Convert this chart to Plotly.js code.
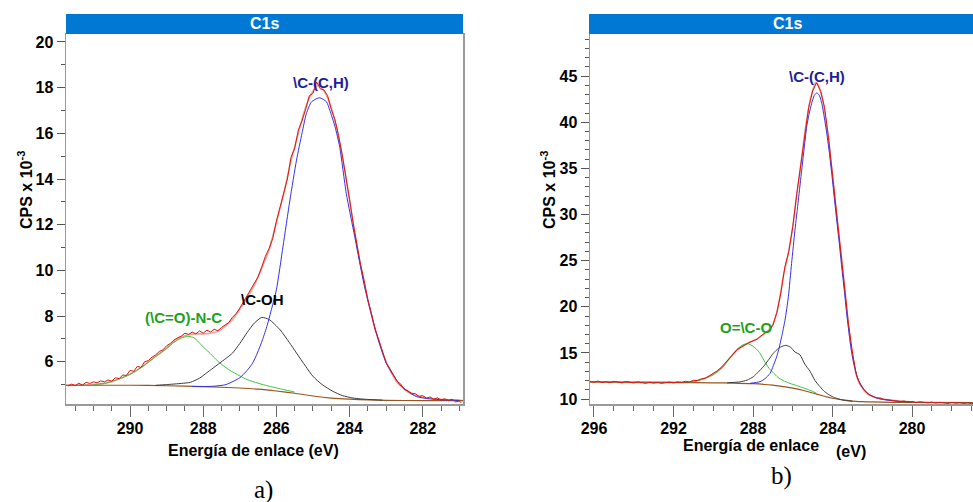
<!DOCTYPE html>
<html><head><meta charset="utf-8">
<script src="https://cdn.plot.ly/plotly-3.0.1.min.js"></script>
<style>html,body{margin:0;padding:0;overflow:hidden;background:#fff;width:973px;height:502px}</style>
</head><body><div id="chart" style="width:985px;height:502px"></div>
<script>
// ---------- panel a) ----------
const aRawX = [291.7,291.6,291.5,291.4,291.3,291.2,291.1,291.0,290.9,290.8,290.7,290.6,290.5,290.4,290.3,290.2,290.1,290.0,
289.9,289.8,289.7,289.6,289.5,289.4,289.3,289.2,289.1,289.0,288.9,288.8,288.7,288.6,288.5,288.4,288.3,288.2,288.1,288.0,
287.9,287.8,287.7,287.6,287.5,287.4,287.3,287.2,287.1,287.0,286.9,286.8,286.7,286.6,286.5,286.4,286.3,286.2,286.1,286.0,
285.9,285.8,285.7,285.6,285.5,285.4,285.3,285.2,285.1,285.0,284.9,284.8,284.7,284.6,284.5,284.4,284.3,284.2,284.1,284.0,
283.9,283.8,283.7,283.6,283.5,283.4,283.3,283.2,283.1,283.0,282.9,282.8,282.7,282.6,282.5,282.4,282.3,282.2,282.1,282.0,
281.9,281.8,281.7,281.6,281.5,281.4,281.3,281.2,281.1,281.0,280.95];
const aRawY = [4.93,5.02,4.95,5.06,4.98,5.10,5.05,5.12,5.08,5.16,5.12,5.20,5.15,5.30,5.26,5.42,5.40,5.62,
5.58,5.80,5.75,6.00,6.05,6.20,6.30,6.45,6.52,6.70,6.80,6.95,7.05,7.12,7.25,7.20,7.30,7.22,7.35,7.25,
7.38,7.30,7.42,7.36,7.50,7.62,7.72,7.95,8.10,8.35,8.62,8.85,9.15,9.40,9.72,10.15,10.62,10.95,11.40,12.15,
12.80,13.40,14.00,14.95,15.35,16.15,16.55,17.05,17.65,17.75,18.25,17.95,17.90,17.65,17.05,16.60,15.90,15.05,14.15,13.10,
12.05,11.15,10.25,9.55,8.70,8.10,7.40,6.95,6.45,5.95,5.70,5.45,5.15,5.02,4.78,4.72,4.62,4.60,4.48,4.52,
4.40,4.46,4.35,4.42,4.32,4.38,4.30,4.36,4.24,4.28,4.20];
const aEnvX = [291.75,291.0,290.65,290.3,290.0,289.65,289.3,289.0,288.8,288.6,288.4,288.2,288.0,287.8,287.6,287.4,287.2,287.0,
286.8,286.6,286.4,286.2,286.0,285.8,285.6,285.4,285.2,285.0,284.85,284.7,284.54,284.36,284.18,284.0,283.81,283.54,283.27,
283.0,282.72,282.36,281.9,281.36,280.9];
const aEnvY = [4.97,5.0,5.07,5.25,5.45,5.80,6.23,6.60,6.88,7.08,7.18,7.22,7.22,7.25,7.33,7.55,7.85,8.3,
8.8,9.35,10.1,10.9,12.1,13.35,14.8,16.0,17.15,17.85,18.1,17.85,17.31,16.28,14.83,13.08,11.19,9.0,7.26,
6.01,5.14,4.63,4.42,4.34,4.30];
const aBgX = [291.75,290.0,289.0,288.0,287.0,286.5,286.0,285.5,285.0,284.5,284.0,283.5,283.0,282.0,280.9];
const aBgY = [4.97,4.97,4.95,4.91,4.85,4.80,4.72,4.62,4.50,4.41,4.36,4.33,4.31,4.30,4.30];
const aCONX = [291.0,290.65,290.3,290.0,289.65,289.3,289.0,288.8,288.6,288.43,288.25,288.0,287.8,287.6,287.3,287.0,286.8,286.5,286.2,285.8,285.5];
const aCONY = [5.0,5.07,5.25,5.45,5.80,6.23,6.58,6.85,7.03,7.11,7.05,6.65,6.35,6.02,5.65,5.38,5.22,5.06,4.93,4.78,4.67];
const aCOHX = [289.3,289.0,288.6,288.35,288.1,287.9,287.55,287.2,287.0,286.8,286.6,286.4,286.2,285.9,285.65,285.45,285.2,285.0,284.75,284.45,284.2,283.9,283.5,283.1];
const aCOHY = [4.97,5.0,5.05,5.10,5.28,5.52,5.94,6.38,6.80,7.28,7.70,7.94,7.85,7.40,6.85,6.38,5.80,5.36,5.0,4.70,4.52,4.41,4.35,4.32];
const aCCHX = [288.3,287.7,287.38,287.0,286.8,286.65,286.52,286.38,286.25,286.15,286.0,285.82,285.63,285.45,285.3,285.18,285.04,284.82,
284.63,284.54,284.4,284.27,284.09,283.86,283.59,283.27,283.0,282.8,282.63,282.4,282.18,281.9,281.54,281.0];
const aCCHY = [4.91,4.93,5.0,5.3,5.62,5.94,6.38,6.96,7.6,8.2,9.15,11.04,13.08,14.83,16.0,16.87,17.38,17.56,
17.38,17.01,16.3,15.41,13.37,11.48,9.29,7.26,5.94,5.4,5.0,4.7,4.48,4.39,4.34,4.31];

// ---------- panel b) ----------
const bRawX = [296.2,296.0,295.8,295.6,295.4,295.2,295.0,294.8,294.6,294.4,294.2,294.0,293.8,293.6,293.4,293.2,293.0,292.8,292.6,292.4,
292.2,292.0,291.8,291.6,291.4,291.2,291.0,290.8,290.6,290.4,290.2,290.0,289.8,289.6,289.4,289.2,289.0,288.8,288.6,288.4,
288.2,288.0,287.8,287.6,287.4,287.2,287.0,286.8,286.6,286.4,286.2,286.0,285.8,285.6,285.4,285.2,285.0,284.8,284.6,284.4,
284.2,284.0,283.8,283.6,283.4,283.2,283.0,282.8,282.6,282.4,282.2,282.0,281.8,281.6,281.4,281.2,281.0,280.8,280.6,280.4,
280.2,280.0,279.8,279.6,279.4,279.2,279.0,278.8,278.6,278.4,278.2,278.0,277.8,277.6,277.4,277.2,277.0,276.8,276.6,276.4];
const bRawY = [11.90,11.82,11.95,11.80,11.88,11.78,11.92,11.85,11.76,11.90,11.80,11.74,11.86,11.78,11.70,11.82,11.72,11.80,11.70,11.78,
11.84,11.74,11.86,11.80,11.92,11.86,12.02,12.00,12.18,12.25,12.50,12.72,13.05,13.40,13.90,14.35,14.90,15.35,15.62,15.90,
16.12,16.30,16.48,16.85,17.15,17.45,18.00,19.40,21.50,24.30,26.00,28.70,32.20,35.50,38.90,41.60,43.40,44.30,43.35,41.60,
38.30,34.30,30.10,26.20,22.20,18.20,15.10,12.60,11.55,10.95,10.52,10.32,10.12,10.10,9.95,9.92,9.85,9.80,9.72,9.78,
9.68,9.74,9.62,9.70,9.64,9.58,9.66,9.56,9.64,9.58,9.52,9.62,9.55,9.60,9.52,9.58,9.50,9.56,9.52,9.58];
const bEnvX = [296.2,291.2,290.67,290.3,290.0,289.7,289.4,289.1,288.8,288.5,288.2,287.9,287.6,287.3,287.06,286.81,286.64,286.48,
286.22,286.0,285.84,285.67,285.55,285.4,285.25,285.1,284.95,284.85,284.75,284.6,284.46,284.3,284.21,284.1,283.99,283.88,
283.76,283.62,283.49,283.38,283.26,283.09,282.95,282.78,282.6,282.28,281.95,281.61,281.0,280.1,278.0,276.3];
const bEnvY = [11.85,11.82,12.06,12.35,12.7,13.2,13.85,14.6,15.3,15.75,16.1,16.4,16.8,17.3,17.83,19.29,21.09,23.25,
25.8,28.6,31.5,34.2,36.2,38.8,40.9,42.6,43.8,44.3,44.15,43.4,42.04,39.6,38.43,36.2,34.09,31.8,
29.4,26.7,24.34,21.9,19.29,16.03,14.1,12.42,11.5,10.61,10.25,10.07,9.85,9.71,9.62,9.58];
const bBgX = [296.2,292.0,290.0,289.0,288.0,287.0,286.5,286.0,285.5,285.0,284.5,284.0,283.5,283.0,282.5,282.0,281.0,280.0,276.3];
const bBgY = [11.85,11.80,11.76,11.73,11.66,11.5,11.35,11.18,10.95,10.65,10.35,10.08,9.90,9.78,9.72,9.68,9.64,9.62,9.60];
const bOCOX = [291.2,290.67,290.3,290.0,289.75,289.49,289.25,288.99,288.75,288.5,288.28,288.05,287.82,287.65,287.4,287.2,286.98,
286.75,286.48,286.15,285.8,285.45,285.13,284.8];
const bOCOY = [11.82,12.06,12.35,12.62,13.0,13.5,14.2,14.95,15.5,15.88,16.0,15.8,15.4,14.95,14.0,13.35,12.85,
12.35,12.0,11.7,11.45,11.2,10.95,10.62];
const bCOHX = [289.3,288.65,288.3,287.98,287.75,287.48,287.2,286.98,286.8,286.6,286.35,286.1,285.89,285.64,285.4,285.13,284.88,
284.63,284.4,284.13,283.9,283.6,283.3,283.0];
const bCOHY = [11.76,11.86,12.05,12.42,12.9,13.5,14.3,14.95,15.35,15.65,15.82,15.6,15.1,14.8,13.8,13.0,12.0,
11.33,10.8,10.4,10.15,9.95,9.82,9.77];
const bCCHX = [288.15,287.65,287.4,287.14,286.98,286.81,286.68,286.56,286.39,286.22,286.06,285.89,285.72,285.55,285.42,285.3,285.17,
285.05,284.92,284.79,284.66,284.54,284.42,284.29,284.16,284.04,283.92,283.79,283.66,283.54,283.41,283.29,283.16,283.03,
282.87,282.7,282.4,282.11,281.7,281.27,280.7,280.1];
const bCCHY = [11.70,11.88,12.2,12.78,13.6,14.58,15.6,16.75,18.56,21.09,24.7,28.31,31.56,34.81,37.3,39.5,41.0,
42.04,42.9,43.19,42.9,42.04,40.6,38.79,36.7,34.46,32.0,29.4,26.9,24.34,21.8,19.29,17.0,14.95,
13.3,12.06,11.0,10.43,10.05,9.89,9.76,9.71];

// ---------- labels ----------
const panelTitle = "C1s";
const yTitle = "CPS x 10<sup>-3</sup>";
const xTitleA = "Energía de enlace (eV)";
const xTitleB1 = "Energía de enlace";
const xTitleB2 = "(eV)";
const aPeakLabels = ["\\C-(C,H)", "\\C-OH", "(\\C=O)-N-C"];
const aPeakLabelX = [284.79, 286.37, 288.53];
const aPeakLabelY = [18.24, 8.71, 7.92];
const bPeakLabels = ["\\C-(C,H)", "O=\\C-O"];
const bPeakLabelX = [284.78, 288.35];
const bPeakLabelY = [45.0, 17.8];

const W = 985, H = 502;
const fx = px => px / W;
const fy = py => 1 - py / H;

const C = {
  raw: 'rgb(220,20,20)', env: 'rgb(235,165,150)', bg: 'rgb(150,85,30)',
  blue: 'rgb(50,50,230)', black: 'rgb(60,60,60)', green: 'rgb(60,195,60)'
};
function tr(x, y, color, width, xa, ya, shape) {
  return {x: x, y: y, type: 'scatter', mode: 'lines', xaxis: xa, yaxis: ya,
    line: {color: color, width: width, shape: shape || 'spline', smoothing: 0.6}, hoverinfo: 'skip', showlegend: false};
}
const data = [
  tr(aEnvX, aEnvY, C.env, 1.6, 'x', 'y'),
  tr(aBgX, aBgY, C.bg, 1.2, 'x', 'y'),
  tr(aCONX, aCONY, C.green, 1, 'x', 'y'),
  tr(aCOHX, aCOHY, C.black, 1, 'x', 'y'),
  tr(aCCHX, aCCHY, C.blue, 1, 'x', 'y'),
  tr(aRawX, aRawY, C.raw, 1, 'x', 'y', 'linear'),
  tr(bEnvX, bEnvY, C.env, 1.6, 'x2', 'y2'),
  tr(bBgX, bBgY, C.bg, 1.2, 'x2', 'y2'),
  tr(bOCOX, bOCOY, C.green, 1, 'x2', 'y2'),
  tr(bCOHX, bCOHY, C.black, 1, 'x2', 'y2'),
  tr(bCCHX, bCCHY, C.blue, 1, 'x2', 'y2'),
  tr(bRawX, bRawY, C.raw, 1, 'x2', 'y2', 'linear')
];

const FONT = 'Liberation Sans, Arial, sans-serif';
const tickfont = {family: FONT, size: 16, color: '#000', weight: 'bold'};
function xax(domain, range, dtick, minorDtick, anchor) {
  return {domain: domain, range: range, anchor: anchor, dtick: dtick, tick0: 280, ticks: 'outside', ticklen: 11,
    tickwidth: 1, tickcolor: '#666', minor: {dtick: minorDtick, ticks: 'outside', ticklen: 5, tickcolor: '#666', showgrid: false},
    showline: true, linecolor: '#999', linewidth: 1.5, mirror: true, showgrid: false, zeroline: false,
    tickfont: tickfont, ticklabelstandoff: -2};
}
function yax(range, dtick, anchor) {
  return {domain: [fy(404), fy(34)], range: range, anchor: anchor, dtick: dtick, tick0: 0, ticks: 'outside', ticklen: 8,
    tickwidth: 1, tickcolor: '#555', minor: {dtick: 1, ticks: 'outside', ticklen: 4, tickcolor: '#555', showgrid: false},
    showline: true, linecolor: '#999', linewidth: 1.5, mirror: true, showgrid: false, zeroline: false,
    tickfont: tickfont};
}

const ann = [];
function pa(text, px, py, size, color, opts) {
  ann.push(Object.assign({text: text, xref: 'paper', yref: 'paper', x: fx(px), y: fy(py), showarrow: false,
    xanchor: 'center', yanchor: 'middle', font: {family: FONT, size: size, color: color, weight: 'bold'}}, opts || {}));
}
pa(panelTitle, 264, 24, 16, '#fff');
pa(panelTitle, 787, 24, 16, '#fff');
pa(yTitle, 25, 190, 16, '#000', {textangle: -90});
pa(yTitle, 548, 190, 16, '#000', {textangle: -90});
pa(xTitleA, 254, 450, 16, '#000');
pa(xTitleB1, 751, 445, 16, '#000');
pa(xTitleB2, 851, 451, 16, '#000');
ann.push({text: 'a)', xref: 'paper', yref: 'paper', x: fx(263), y: fy(490), showarrow: false, xanchor: 'center', yanchor: 'middle',
  font: {family: 'Liberation Serif, Times New Roman, serif', size: 25, color: '#000'}});
ann.push({text: 'b)', xref: 'paper', yref: 'paper', x: fx(781), y: fy(476), showarrow: false, xanchor: 'center', yanchor: 'middle',
  font: {family: 'Liberation Serif, Times New Roman, serif', size: 25, color: '#000'}});
const aLabelColors = ['rgb(30,30,150)', '#000', 'rgb(30,160,30)'];
aPeakLabels.forEach((t, i) => ann.push({text: t, xref: 'x', yref: 'y', x: aPeakLabelX[i], y: aPeakLabelY[i], showarrow: false,
  xanchor: 'center', yanchor: 'middle', font: {family: FONT, size: 15, color: aLabelColors[i], weight: 'bold'}}));
const bLabelColors = ['rgb(30,30,150)', 'rgb(30,160,30)'];
bPeakLabels.forEach((t, i) => ann.push({text: t, xref: 'x2', yref: 'y2', x: bPeakLabelX[i], y: bPeakLabelY[i], showarrow: false,
  xanchor: 'center', yanchor: 'middle', font: {family: FONT, size: 15, color: bLabelColors[i], weight: 'bold'}}));

const layout = {
  width: W, height: H, margin: {l: 0, r: 0, t: 0, b: 0}, paper_bgcolor: '#fff', plot_bgcolor: '#fff',
  showlegend: false, hovermode: false,
  xaxis: xax([fx(66), fx(463)], [291.75, 280.9], 2, 0.5, 'y'),
  yaxis: yax([4.15, 20.35], 2, 'x'),
  xaxis2: xax([fx(590), 1], [296.2, 276.33], 4, 1, 'y2'),
  yaxis2: yax([9.46, 49.57], 5, 'x2'),
  shapes: [
    {type: 'rect', xref: 'paper', yref: 'paper', x0: fx(66), x1: fx(463), y0: fy(34), y1: fy(14),
      fillcolor: 'rgb(0,120,212)', line: {width: 0}},
    {type: 'rect', xref: 'paper', yref: 'paper', x0: fx(589), x1: 1, y0: fy(34), y1: fy(14),
      fillcolor: 'rgb(0,120,212)', line: {width: 0}}
  ],
  annotations: ann
};
Plotly.newPlot('chart', data, layout, {staticPlot: true, displayModeBar: false});
</script></body></html>
